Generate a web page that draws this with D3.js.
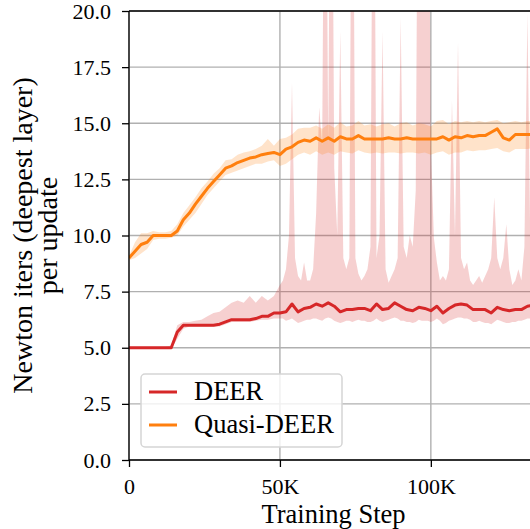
<!DOCTYPE html>
<html>
<head>
<meta charset="utf-8">
<script src="https://cdn.jsdelivr.net/npm/d3@7"></script>
<style>
  body { margin: 0; background: #fff; }
</style>
</head>
<body>
<div id="chart"></div>
<script>
var FONT = "'Liberation Serif', 'DejaVu Serif', 'Times New Roman', serif";

// training steps (thousands) for the mean curves
var steps = [0,2,4,6,8,10,12,14,16,18,20,22,24,26,28,30,32,34,36,38,40,42,44,46,48,50,
  52,54,56,58,60,62,64,66,68,70,72,74,76,78,80,82,84,86,88,90,92,94,96,98,100,
  102,104,106,108,110,112,114,116,118,120,122,124,126,128,130,132,134];

// DEER mean
var deerMean = [5,5,5,5,5,5,5,5,5.7,6,6,6,6,6,6,6.05,6.15,6.25,6.25,6.25,6.25,6.3,6.4,6.4,6.55,6.55,
  6.6,6.95,6.6,6.75,6.8,6.95,6.85,7,6.85,6.6,6.7,6.7,6.75,6.75,6.65,6.95,6.7,6.75,7,6.85,6.7,6.65,6.8,6.75,6.65,
  6.85,6.55,6.75,6.9,6.95,6.9,6.7,6.7,6.7,6.55,6.8,6.7,6.65,6.7,6.7,6.85,6.9];

// DEER band (finer steps after 50K)
var deerBandSteps = [0,2,4,6,8,10,12,14,16,18,20,22,24,26,28,30,32,34,36,38,40,42,44,46,48,
  50,51,52,53,54,55,56,57,58,59,60,61,62,63,64,65,66,67,68,69,70,71,72,73,74,75,76,77,78,79,
  80,81,82,83,84,85,86,87,88,89,90,91,92,93,94,95,96,97,98,99,100,101,102,103,104,105,106,107,108,109,
  110,111,112,113,114,115,116,117,118,119,120,121,122,123,124,125,126,127,128,129,130,131,132,133,134,135];
var deerLow = [4.95,4.95,4.95,4.95,4.95,4.95,4.95,4.95,5.4,5.85,5.95,5.95,5.95,5.95,5.95,5.95,6.05,6.15,6.15,6.15,6.15,6.2,6.25,6.25,6.3,
  6.3,6.3,6.2,6.25,6.3,6.2,6.1,6.15,6.2,6.25,
  6.25,6.3,6.3,6.25,6.2,6.3,6.35,6.3,6.2,6.15,
  6.1,6.15,6.2,6.2,6.15,6.2,6.25,6.2,6.2,6.15,
  6.15,6.2,6.3,6.2,6.15,6.2,6.25,6.3,6.35,6.3,
  6.2,6.2,6.15,6.15,6.1,6.15,6.25,6.2,6.2,6.2,
  6.15,6.2,6.3,6.2,6.05,6.1,6.2,6.25,6.3,6.35,
  6.35,6.3,6.3,6.25,6.15,6.15,6.2,6.15,6.1,6.1,
  6.05,6.15,6.25,6.2,6.15,6.1,6.1,6.15,6.15,6.2,
  6.2,6.25,6.3,6.3,6.3,6.3];
var deerHigh = [5.05,5.05,5.05,5.05,5.05,5.05,5.05,5.1,6,6.15,6.15,6.2,6.25,6.4,6.55,6.6,6.8,7,7.1,7,7.3,7,7.3,7.1,7.3,
  7.8,8.0,8.5,10,16.8,9,8.2,8.0,8.8,8.0,
  8.0,8.5,11,15.7,14,35,14,35,13,10,
  19.1,9,8.5,9,35,9,8.3,8.0,8.2,8.5,
  9.5,35,9,10,19.1,8.5,7.9,8.2,8.5,9.0,
  19.7,9.5,9.0,10.0,9.5,12,35,20,40,35,
  14,9.9,8.8,8.0,8.2,8.0,8.5,16,10,18.6,
  9,8.5,8.8,8.0,7.8,8.0,8.2,7.9,8.2,8.5,
  9.0,11.7,9.0,8.5,9.0,10.5,8.5,7.8,8.0,8.5,
  8.0,9.5,19.9,9,8,8];

// Quasi-DEER: mean and band
var quasiMean = [9,9.3,9.6,9.7,10,10,10,10,10.2,10.7,11,11.4,11.75,12.1,12.4,12.7,13,13.1,13.25,13.35,13.45,13.5,13.6,13.65,13.7,13.6,
  13.85,13.95,14.15,14.25,14.2,14.35,14.2,14.35,14.2,14.4,14.3,14.3,14.45,14.3,14.3,14.3,14.3,14.35,14.3,14.3,14.35,14.3,14.3,14.3,14.3,
  14.3,14.4,14.25,14.4,14.35,14.45,14.4,14.45,14.45,14.6,14.75,14.35,14.25,14.5,14.5,14.5,14.5];
var quasiLow = [8.9,9,9.2,9.4,9.8,9.85,9.85,9.9,10,10.4,10.7,11,11.4,11.8,12.1,12.4,12.7,12.8,12.9,13,13.1,13.2,13.2,13.3,13.35,13.1,
  13.2,13.4,13.6,13.7,13.6,13.75,13.6,13.7,13.6,13.75,13.7,13.65,13.8,13.7,13.65,13.7,13.65,13.7,13.7,13.65,13.7,13.7,13.65,13.7,13.6,
  13.7,13.75,13.6,13.7,13.7,13.8,13.75,13.8,13.8,13.85,13.9,13.75,13.7,13.85,13.85,13.85,13.9];
var quasiHigh = [9.1,9.7,10.1,10.1,10.2,10.15,10.15,10.2,10.5,11,11.35,11.7,12.1,12.4,12.75,13,13.35,13.4,13.6,13.7,13.75,13.85,14,14.3,14,14.3,
  14.35,14.5,14.75,14.8,14.8,14.9,14.75,14.95,14.8,15.05,14.85,14.9,15.1,14.9,14.95,14.85,14.95,15,14.85,15,15.05,14.9,15,14.95,14.85,
  15.1,15.15,14.95,15.1,15.05,15.1,15.05,15.1,15.05,15.1,15.15,15,15.05,15.1,15.05,15.1,15.1];

var yTicks = [0, 2.5, 5, 7.5, 10, 12.5, 15, 17.5, 20];
var xTicks = [0, 50, 100];
var xTickLabels = ["0", "50K", "100K"];

var series = [
  {name: "DEER", color: "#d62728", mean: deerMean, bandSteps: deerBandSteps, low: deerLow, high: deerHigh},
  {name: "Quasi-DEER", color: "#ff7f0e", mean: quasiMean, bandSteps: steps, low: quasiLow, high: quasiHigh}
];

var W = 530, H = 529;
var margin = {top: 11, left: 129},
    plotRight = 538, plotBottom = 460;

var svg = d3.select("#chart").append("svg")
  .attr("width", W).attr("height", H);

var x = d3.scaleLinear().domain([0, 135.5]).range([margin.left, plotRight]);
var y = d3.scaleLinear().domain([0, 20]).range([plotBottom, margin.top]);

svg.append("defs").append("clipPath").attr("id", "clip")
  .append("rect")
    .attr("x", margin.left).attr("y", margin.top)
    .attr("width", plotRight - margin.left).attr("height", plotBottom - margin.top);

// grid
var grid = svg.append("g").attr("stroke", "#b0b0b0").attr("stroke-width", 1.4);
grid.selectAll(".gy").data(yTicks).enter().append("line")
  .attr("x1", margin.left).attr("x2", plotRight)
  .attr("y1", function(d) { return y(d); }).attr("y2", function(d) { return y(d); });
grid.selectAll(".gx").data(xTicks).enter().append("line")
  .attr("y1", margin.top).attr("y2", plotBottom)
  .attr("x1", function(d) { return x(d); }).attr("x2", function(d) { return x(d); });

var plot = svg.append("g").attr("clip-path", "url(#clip)");

series.forEach(function(s) {
  var area = d3.area()
    .x(function(d, i) { return x(s.bandSteps[i]); })
    .y0(function(d, i) { return y(s.low[i]); })
    .y1(function(d, i) { return y(s.high[i]); });
  plot.append("path")
    .attr("d", area(s.low))
    .attr("fill", s.color).attr("fill-opacity", 0.22).attr("stroke", "none");
});
series.forEach(function(s) {
  var line = d3.line()
    .x(function(d, i) { return x(steps[i]); })
    .y(function(d) { return y(d); });
  plot.append("path")
    .attr("d", line(s.mean))
    .attr("fill", "none").attr("stroke", s.color)
    .attr("stroke-width", 3).attr("stroke-linejoin", "round");
});

// axes
var yAxis = svg.append("g")
  .attr("transform", "translate(" + margin.left + ",0)")
  .call(d3.axisLeft(y).tickValues(yTicks).tickFormat(d3.format(".1f")).tickSize(7).tickPadding(11));
var xAxis = svg.append("g")
  .attr("transform", "translate(0," + plotBottom + ")")
  .call(d3.axisBottom(x).tickValues(xTicks)
    .tickFormat(function(d, i) { return xTickLabels[i]; }).tickSize(7).tickPadding(11));
[xAxis, yAxis].forEach(function(a) {
  a.attr("font-family", FONT).attr("font-size", 22);
  a.select(".domain").remove();
  a.selectAll("line").attr("stroke", "#000").attr("stroke-width", 1.3);
  a.selectAll("text").attr("fill", "#000");
});

// spines
var spines = svg.append("g").attr("stroke", "#000").attr("stroke-width", 1.3).attr("fill", "none");
spines.append("line").attr("x1", margin.left).attr("x2", margin.left)
  .attr("y1", margin.top).attr("y2", plotBottom);
spines.append("line").attr("x1", margin.left).attr("x2", plotRight)
  .attr("y1", margin.top).attr("y2", margin.top);
spines.append("line").attr("x1", margin.left).attr("x2", plotRight)
  .attr("y1", plotBottom).attr("y2", plotBottom);

// axis labels
svg.append("text")
  .attr("x", (margin.left + plotRight) / 2).attr("y", 523)
  .attr("text-anchor", "middle")
  .attr("font-family", FONT).attr("font-size", 26.5)
  .text("Training Step");
var ylab = svg.append("text")
  .attr("transform", "translate(32," + ((margin.top + plotBottom) / 2) + ") rotate(-90)")
  .attr("text-anchor", "middle")
  .attr("font-family", FONT).attr("font-size", 28);
ylab.append("tspan").attr("x", 0).attr("y", 0).text("Newton iters (deepest layer)");
ylab.append("tspan").attr("x", 0).attr("y", 25).text("per update");

// legend
var leg = svg.append("g").attr("transform", "translate(141,374)");
leg.append("rect")
  .attr("width", 201).attr("height", 73).attr("rx", 4)
  .attr("fill", "#fff").attr("fill-opacity", 0.8)
  .attr("stroke", "#d5d5d5").attr("stroke-width", 1.5);
series.forEach(function(s, i) {
  var g = leg.append("g").attr("transform", "translate(0," + (18 + i * 33) + ")");
  g.append("line").attr("x1", 8).attr("x2", 36).attr("y1", 0).attr("y2", 0)
    .attr("stroke", s.color).attr("stroke-width", 3);
  g.append("text").attr("x", 53).attr("y", 8)
    .attr("font-family", FONT).attr("font-size", 26.5).text(s.name);
});
</script>
</body>
</html>
